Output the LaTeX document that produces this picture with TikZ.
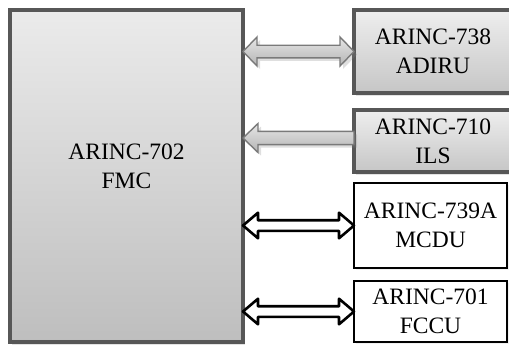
\documentclass[tikz,border=0pt]{standalone}
\usepackage{fontspec}
\setmainfont{Liberation Serif}
\usetikzlibrary{calc,shadows}

\definecolor{boxedge}{HTML}{575757}
\definecolor{grayhi}{HTML}{EEEEEE}
\definecolor{graylo}{HTML}{C6C6C6}
\definecolor{fmchi}{HTML}{EBEBEB}
\definecolor{fmclo}{HTML}{BEBEBE}
\definecolor{busedge}{HTML}{7A7A7A}
\definecolor{bushi}{HTML}{E6E6E6}
\definecolor{buslo}{HTML}{B4B4B4}

\tikzset{
  unit/.style={rectangle, outer sep=0pt, inner sep=0pt, align=center,
    font=\fontsize{23.5bp}{29bp}\selectfont, text=black},
  grayunit/.style={unit, draw=boxedge, line width=3.5bp,
    top color=grayhi, bottom color=graylo,
    drop shadow={opacity=0.22, shadow xshift=2bp, shadow yshift=-2.5bp}},
  whiteunit/.style={unit, draw=black, line width=1.3bp, fill=white,
    drop shadow={opacity=0.12, shadow xshift=1.5bp, shadow yshift=-1.5bp}},
  graybus/.style={draw=busedge, line width=1.4bp, line join=miter,
    top color=bushi, bottom color=buslo,
    drop shadow={opacity=0.25, shadow xshift=3bp, shadow yshift=-3bp}},
  blackbus/.style={draw=black, line width=2.6bp, line join=round, fill=white},
}

% double-headed bus arrow from #2 (left) to #3 (right):
% #4 half shaft width, #5 half head width, #6 head length
\newcommand\dblbus[6][]{%
  \draw[#1] (#2) -- ($(#2)+(#6,-#5)$) -- ($(#2)+(#6,-#4)$)
    -- ($(#3)+(-#6,-#4)$) -- ($(#3)+(-#6,-#5)$) -- (#3)
    -- ($(#3)+(-#6,#5)$) -- ($(#3)+(-#6,#4)$)
    -- ($(#2)+(#6,#4)$) -- ($(#2)+(#6,#5)$) -- cycle;}

% single-headed bus arrow with its tail at #2 (right) and tip at #3 (left)
\newcommand\onebus[6][]{%
  \draw[#1] (#3) -- ($(#3)+(#6,-#5)$) -- ($(#3)+(#6,-#4)$)
    -- ($(#2)+(0,-#4)$) -- ($(#2)+(0,#4)$)
    -- ($(#3)+(#6,#4)$) -- ($(#3)+(#6,#5)$) -- cycle;}

\begin{document}
\begin{tikzpicture}[x=1bp,y=-1bp]
  \useasboundingbox (0,0) rectangle (509,349);
  \begin{scope}
    \clip (0,0) rectangle (509,349);

    % flight management computer
    \node[grayunit, top color=fmchi, bottom color=fmclo,
          minimum width=233bp, minimum height=332bp] (fmc) at (126.5,176) {};
    \node[unit] (fmctext) at (126.5,166) {ARINC-702\\FMC};

    % peripheral units
    \node[grayunit, minimum width=158bp, minimum height=83bp] (adiru) at (433,51.5)
      {ARINC-738\\ADIRU};
    \node[grayunit, minimum width=158bp, minimum height=62bp] (ils) at (433,141)
      {ARINC-710\\ILS};
    \node[whiteunit, minimum width=153bp, minimum height=85bp] (mcdu) at (430.5,225.5)
      {ARINC-739A\\MCDU};
    \node[whiteunit, minimum width=153bp, minimum height=61bp] (fccu) at (430.5,311.5)
      {ARINC-701\\FCCU};

    % bus end points
    \coordinate (adL) at (fmc.east |- adiru.west);
    \coordinate (ilsR) at ([yshift=3bp]ils.west);
    \coordinate (ilsL) at (fmc.east |- ilsR);
    \coordinate (mcL) at (fmc.east |- mcdu.west);
    \coordinate (fcL) at (fmc.east |- fccu.west);

    % data buses
    \dblbus[graybus]{adL}{adiru.west}{6.3}{14.5}{14}
    \onebus[graybus]{ilsR}{ilsL}{6.6}{14.5}{15}
    \dblbus[blackbus]{mcL}{mcdu.west}{5.3}{12.8}{15}
    \dblbus[blackbus]{fcL}{fccu.west}{5.3}{12.8}{15}
  \end{scope}
\end{tikzpicture}
\end{document}
